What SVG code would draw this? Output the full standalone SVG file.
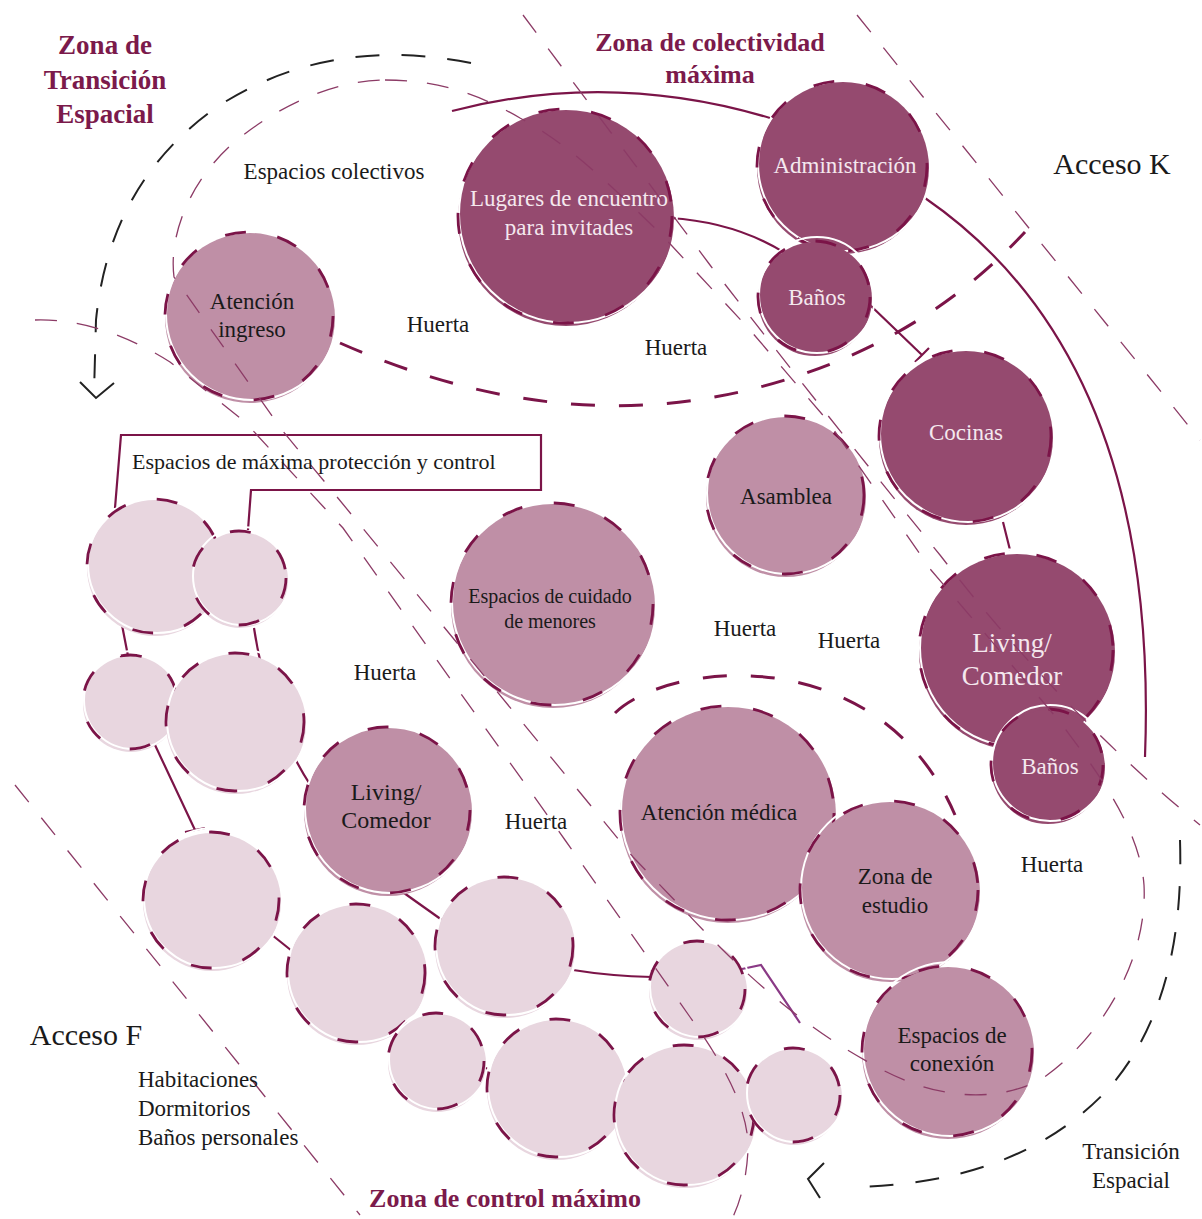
<svg xmlns="http://www.w3.org/2000/svg" width="1202" height="1219" viewBox="0 0 1202 1219">
<style>
.bg{fill:#ffffff}
.dk{fill:#954a6f}
.md{fill:#bf8fa6}
.lt{fill:#e8d6df}
.wr{fill:none;stroke:#ffffff;stroke-width:2}
.ds{fill:none;stroke:#7b1448;stroke-width:2.8;stroke-dasharray:21 32}
.cn{fill:none;stroke:#7b1448;stroke-width:2.2}
.zb{fill:none;stroke:#222222;stroke-width:2;stroke-dasharray:24 22}
.zbs{fill:none;stroke:#222222;stroke-width:2}
.zm{fill:none;stroke:#7b1448;stroke-width:3;stroke-dasharray:24 24}
.zt{fill:none;stroke:#8c3b66;stroke-width:1.3;stroke-dasharray:22 20}
text{font-family:"Liberation Serif","Times New Roman",serif;text-anchor:middle}
.w{fill:#f4e8ee;font-size:23px}
.b{fill:#1a1a1a;font-size:23px}
.free{fill:#1a1a1a;font-size:23px}
.ttl{fill:#7b1a4b;font-size:26px;font-weight:bold}
</style>
<rect class="bg" x="0" y="0" width="1202" height="1219"/>

<g id="connectors">
<path class="cn" d="M452,111 Q610,70 770,118"/>
<path class="cn" d="M670,218 Q735,222 785,253"/>
<path class="cn" d="M870,305 L922,355 M929,348 L915,362"/>
<path class="cn" d="M925,198 Q1160,360 1145,757"/>
<path class="cn" d="M1003,522 L1010,550"/>
<path class="cn" d="M115,508 L121,435 L541,435 L541,490 L251,490 L248,530"/>
<path class="cn" d="M122,625 L128,656 M120,657 L137,655"/>
<path class="cn" d="M254,628 Q268,720 311,786"/>
<path class="cn" d="M155,745 L195,830 M185,832 L205,828"/>
<path class="cn" d="M272,935 L292,951"/>
<path class="cn" d="M404,893 L442,920"/>
<path class="cn" d="M573,970 Q610,976 652,977 M652,970 L652,982"/>
<path class="cn" d="M742,969 L761,965 L800,1023" style="stroke:#8a3a86"/>
<path class="cn" d="M486,1068 L494,1071"/>
</g>

<g id="n-lugares"><circle class="dk" cx="566" cy="218" r="108"/><circle class="wr" cx="568" cy="214" r="109"/><circle class="ds" cx="565" cy="216" r="107"/>
<text class="w" x="569" y="206">Lugares de encuentro</text><text class="w" x="569" y="235">para invitades</text></g>
<g id="n-admin"><circle class="dk" cx="843" cy="168" r="86"/><circle class="wr" cx="845" cy="164" r="87"/><circle class="ds" cx="842" cy="166" r="85"/>
<text class="w" x="845" y="173">Administración</text></g>
<g id="n-banos1"><circle class="dk" cx="815" cy="299" r="57"/><circle class="wr" cx="817" cy="295" r="58"/><circle class="ds" cx="814" cy="297" r="56"/>
<text class="w" x="817" y="305">Baños</text></g>
<g id="n-cocinas"><circle class="dk" cx="966" cy="438" r="87"/><circle class="wr" cx="968" cy="434" r="88"/><circle class="ds" cx="965" cy="436" r="86"/>
<text class="w" x="966" y="440">Cocinas</text></g>
<g id="n-living2"><circle class="dk" cx="1017" cy="652" r="98"/><circle class="wr" cx="1019" cy="648" r="99"/><circle class="ds" cx="1016" cy="650" r="97"/>
<text class="w" x="1012" y="652" style="font-size:27px">Living/</text><text class="w" x="1012" y="685" style="font-size:27px">Comedor</text></g>
<g id="n-banos2"><circle class="dk" cx="1048" cy="767" r="57"/><circle class="wr" cx="1050" cy="763" r="58"/><circle class="ds" cx="1047" cy="765" r="56"/>
<text class="w" x="1050" y="774">Baños</text></g>

<g id="n-atencion"><circle class="md" cx="250" cy="318" r="85"/><circle class="wr" cx="252" cy="314" r="86"/><circle class="ds" cx="249" cy="316" r="84"/>
<text class="b" x="252" y="309">Atención</text><text class="b" x="252" y="337">ingreso</text></g>
<g id="n-asamblea"><circle class="md" cx="786" cy="497" r="80"/><circle class="wr" cx="788" cy="493" r="81"/><circle class="ds" cx="785" cy="495" r="79"/>
<text class="b" x="786" y="504">Asamblea</text></g>
<g id="n-cuidado"><circle class="md" cx="553" cy="606" r="102"/><circle class="wr" cx="555" cy="602" r="103"/><circle class="ds" cx="552" cy="604" r="101"/>
<text class="b" x="550" y="603" style="font-size:20px">Espacios de cuidado</text><text class="b" x="550" y="628" style="font-size:20px">de menores</text></g>
<g id="n-medica"><circle class="md" cx="728" cy="815" r="108"/><circle class="wr" cx="730" cy="811" r="109"/><circle class="ds" cx="727" cy="813" r="107"/>
<text class="b" x="719" y="820">Atención médica</text></g>
<g id="n-estudio"><circle class="md" cx="890" cy="892" r="90"/><circle class="wr" cx="892" cy="888" r="91"/><circle class="ds" cx="889" cy="890" r="89"/>
<text class="b" x="895" y="884">Zona de</text><text class="b" x="895" y="913">estudio</text></g>
<g id="n-conexion"><circle class="md" cx="948" cy="1053" r="86"/><circle class="wr" cx="950" cy="1049" r="87"/><circle class="ds" cx="947" cy="1051" r="85"/>
<text class="b" x="952" y="1043">Espacios de</text><text class="b" x="952" y="1071">conexión</text></g>

<g id="n-h1"><circle class="lt" cx="155" cy="568" r="68"/><circle class="wr" cx="157" cy="564" r="69"/><circle class="ds" cx="154" cy="566" r="67"/></g>
<g id="n-h2"><circle class="lt" cx="240" cy="580" r="48"/><circle class="wr" cx="242" cy="576" r="49"/><circle class="ds" cx="239" cy="578" r="47"/></g>
<g id="n-h3"><circle class="lt" cx="131" cy="704" r="48"/><circle class="wr" cx="133" cy="700" r="49"/><circle class="ds" cx="130" cy="702" r="47"/></g>
<g id="n-h4"><circle class="lt" cx="236" cy="724" r="70"/><circle class="wr" cx="238" cy="720" r="71"/><circle class="ds" cx="235" cy="722" r="69"/></g>
<g id="n-living1"><circle class="md" cx="388" cy="812" r="84"/><circle class="wr" cx="390" cy="808" r="85"/><circle class="ds" cx="387" cy="810" r="83"/>
<text class="b" x="386" y="800" style="font-size:24px">Living/</text><text class="b" x="386" y="828" style="font-size:24px">Comedor</text></g>
<g id="n-h5"><circle class="lt" cx="212" cy="902" r="69"/><circle class="wr" cx="214" cy="898" r="70"/><circle class="ds" cx="211" cy="900" r="68"/></g>
<g id="n-h6"><circle class="lt" cx="357" cy="975" r="70"/><circle class="wr" cx="359" cy="971" r="71"/><circle class="ds" cx="356" cy="973" r="69"/></g>
<g id="n-h7"><circle class="lt" cx="505" cy="948" r="70"/><circle class="wr" cx="507" cy="944" r="71"/><circle class="ds" cx="504" cy="946" r="69"/></g>
<g id="n-h8"><circle class="lt" cx="437" cy="1063" r="49"/><circle class="wr" cx="439" cy="1059" r="50"/><circle class="ds" cx="436" cy="1061" r="48"/></g>
<g id="n-h9"><circle class="lt" cx="557" cy="1090" r="70"/><circle class="wr" cx="559" cy="1086" r="71"/><circle class="ds" cx="556" cy="1088" r="69"/></g>
<g id="n-h10"><circle class="lt" cx="698" cy="991" r="49"/><circle class="wr" cx="700" cy="987" r="50"/><circle class="ds" cx="697" cy="989" r="48"/></g>
<g id="n-h11"><circle class="lt" cx="685" cy="1117" r="71"/><circle class="wr" cx="687" cy="1113" r="72"/><circle class="ds" cx="684" cy="1115" r="70"/></g>
<g id="n-h12"><circle class="lt" cx="794" cy="1097" r="48"/><circle class="wr" cx="796" cy="1093" r="49"/><circle class="ds" cx="793" cy="1095" r="47"/></g>

<g id="zones">
<path class="zb" d="M471,63 Q330,35 220,105 Q110,180 96,320 L94,393"/>
<polyline class="zbs" points="80,382 96,398 114,383"/>
<path class="zb" d="M1180,840 Q1185,1000 1110,1087 Q1020,1185 850,1187"/>
<polyline class="zbs" points="824,1163 808,1179 820,1198"/>
<path class="zm" d="M340,343 Q560,440 760,387 Q920,345 1025,232"/>
<path class="zm" d="M615,713 C670,660 880,640 955,815"/>
<path class="zt" d="M385,80 C440,80 480,95 520,118 C570,145 610,185 660,233 L750,330 L827,420 L931,570 L999,650 L1060,722 C1100,775 1140,830 1144,885 C1148,960 1100,1040 1040,1080 C990,1105 930,1098 870,1063 C800,1025 740,970 686,912 L633,857 L282,430 L174,277 C168,230 195,170 246,133 C290,100 340,80 385,80"/>
<path class="zt" d="M523,15 L710,265 Q830,420 940,555 Q1060,710 1200,825"/>
<path class="zt" d="M35,320 Q100,318 170,362 L245,422 L343,528 L565,840 L690,1017 Q750,1100 748,1150 Q746,1190 732,1219"/>
<path class="zt" d="M15,785 L360,1215"/>
<path class="zt" d="M857,15 L1200,440"/>
</g>

<g id="labels">
<text class="ttl" x="105" y="54" style="font-size:27px">Zona de</text>
<text class="ttl" x="105" y="89" style="font-size:27px">Transición</text>
<text class="ttl" x="105" y="123" style="font-size:27px">Espacial</text>
<text class="ttl" x="710" y="51">Zona de colectividad</text>
<text class="ttl" x="710" y="83">máxima</text>
<text class="ttl" x="505" y="1207">Zona de control máximo</text>
<text class="free" x="334" y="179">Espacios colectivos</text>
<text class="free" x="1112" y="174" style="font-size:30px">Acceso K</text>
<text class="free" x="86" y="1045" style="font-size:30px">Acceso F</text>
<text class="free" x="138" y="1087" style="text-anchor:start">Habitaciones</text>
<text class="free" x="138" y="1116" style="text-anchor:start">Dormitorios</text>
<text class="free" x="138" y="1145" style="text-anchor:start">Baños personales</text>
<text class="free" x="1131" y="1159">Transición</text>
<text class="free" x="1131" y="1188">Espacial</text>
<text class="free" x="132" y="469" style="text-anchor:start;font-size:22px">Espacios de máxima protección y control</text>
<text class="free" x="438" y="332">Huerta</text>
<text class="free" x="676" y="355">Huerta</text>
<text class="free" x="385" y="680">Huerta</text>
<text class="free" x="745" y="636">Huerta</text>
<text class="free" x="849" y="648">Huerta</text>
<text class="free" x="536" y="829">Huerta</text>
<text class="free" x="1052" y="872">Huerta</text>
</g>
</svg>
